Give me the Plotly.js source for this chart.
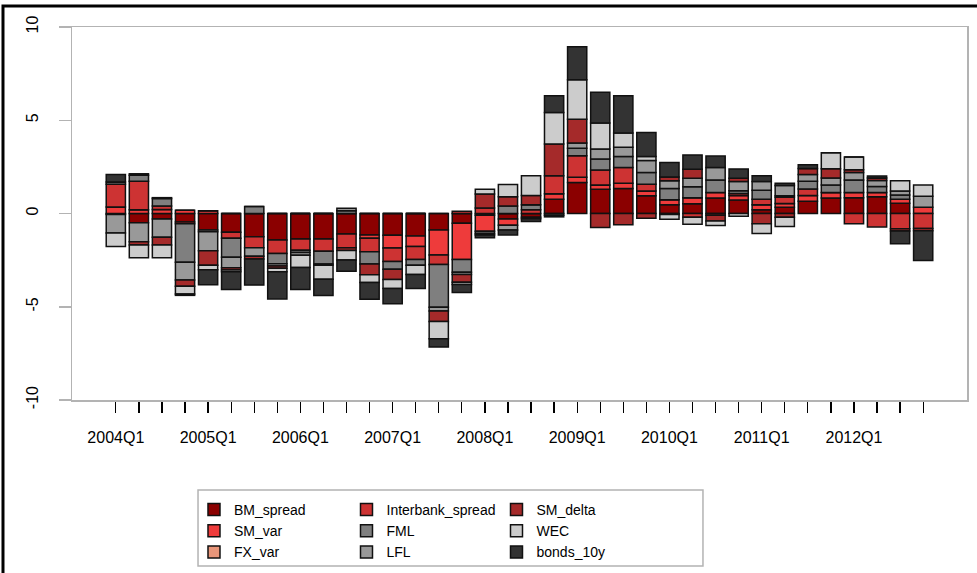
<!DOCTYPE html>
<html>
<head>
<meta charset="utf-8">
<script src="https://cdn.plot.ly/plotly-3.0.1.min.js"></script>
<style>
  html, body { margin: 0; padding: 0; background: #fff; }
  #myDiv { width: 977px; height: 573px; }
</style>
</head>
<body>
<div id="myDiv"></div>
<script>
// quarters on the x axis
var quarters = [
  '2004Q1','2004Q2','2004Q3','2004Q4','2005Q1','2005Q2','2005Q3','2005Q4',
  '2006Q1','2006Q2','2006Q3','2006Q4','2007Q1','2007Q2','2007Q3','2007Q4',
  '2008Q1','2008Q2','2008Q3','2008Q4','2009Q1','2009Q2','2009Q3','2009Q4',
  '2010Q1','2010Q2','2010Q3','2010Q4','2011Q1','2011Q2','2011Q3','2011Q4',
  '2012Q1','2012Q2','2012Q3','2012Q4'
];
var tickLabels = ['2004Q1','2005Q1','2006Q1','2007Q1','2008Q1','2009Q1','2010Q1','2011Q1','2012Q1'];
var yTicks = [-10, -5, 0, 5, 10];
var yTickText = ['-10', '-5', '0', '5', '10'];

// contributions
var BM_spread = [-0.05,-0.49,-0.3,-0.45,-0.88,-1.0,-1.24,-1.42,-1.37,-1.37,-1.1,-1.15,
  -1.17,-1.2,-0.88,-0.52,-0.1,-0.3,-0.2,0.76,1.66,1.3,1.34,0.95,
  0.47,0.52,0.83,0.72,0.2,0.34,0.66,0.83,0.84,0.9,0.55,0];
var SM_var = [0.35,0.2,0.22,0.18,0.15,0,0,0,0,0,0,-0.18,
  -0.68,-0.57,-1.35,-1.95,-0.85,-0.33,-0.08,0.3,0.29,0.23,0.28,0.26,
  0.27,0.33,0.29,0.25,0.27,0.2,0.3,0.29,0.29,0.22,0.22,0.33];
var FX_var = [0,0,0,0,0,0,0,0,0,0,0,0,
  0,0,0,0,0,0,0,0,0,0,0,0,
  0,0,0,0,0,0,0,0,0,0,0,0];
var Interbank_spread = [1.22,1.53,0.18,-0.1,0,-0.33,-0.6,-0.72,-0.6,-0.66,-0.74,-0.72,
  -0.72,-0.7,-0.5,0.12,0.3,0,0.2,0.96,1.15,0.8,0.85,0.36,
  -0.06,-0.2,-0.1,0.1,0.3,0.33,0.35,0,-0.55,-0.72,-0.82,-0.8];
var FML = [0.12,0.32,0.4,-2.07,-0.1,-1.02,0.38,-0.55,-0.12,-0.68,0.15,-0.66,
  -0.42,-0.3,-2.3,-0.68,-0.12,0.4,0.27,-0.1,0.4,0.59,0.58,0.63,
  0.6,0.58,0.68,0.15,0.47,0.08,0.42,0.41,0.67,0.33,0.22,0];
var LFL = [-1.0,-1.02,-0.97,-0.95,-1.02,-0.56,-0.45,-0.12,-0.15,-0.06,0.13,0,
  0,0,-0.2,-0.12,-0.08,-0.25,0,-0.08,0.28,0.54,0.5,0.64,
  0.42,0.46,0.67,0.5,0.48,0.55,0.36,0.37,0.4,0.32,0.22,0.6];
var SM_delta = [0,-0.18,-0.42,-0.33,-0.77,-0.12,-0.15,-0.12,0,0,-0.15,-0.57,
  -0.55,0,-0.56,-0.42,0.75,0.5,0.5,1.71,1.27,-0.75,-0.6,-0.25,
  0.2,0.48,-0.3,0.17,-0.55,-0.2,0.32,0.5,0.14,0.14,-0.12,-0.12];
var WEC = [-0.72,-0.68,-0.68,-0.42,-0.25,-0.1,0,-0.2,-0.65,-0.75,-0.5,-0.42,
  -0.48,-0.5,-0.92,-0.12,0.25,0.65,1.05,1.69,2.12,1.39,0.77,0.22,
  -0.25,-0.38,-0.25,-0.15,-0.52,-0.5,0,0.86,0.69,0,0.55,0.6];
var bonds_10y = [0.4,0.08,0.05,-0.07,-0.8,-0.95,-1.4,-1.45,-1.18,-0.88,-0.6,-0.9,
  -0.82,-0.75,-0.45,-0.42,-0.15,-0.27,-0.15,0.9,1.77,1.65,2.0,1.28,
  0.78,0.77,0.61,0.5,0.3,0.12,0.2,0,0,0.1,-0.68,-1.6];

var series = [
  {name: 'BM_spread',        y: BM_spread,        color: '#8B0000', legend: 'legend'},
  {name: 'SM_var',           y: SM_var,           color: '#EE3B3B', legend: 'legend'},
  {name: 'FX_var',           y: FX_var,           color: '#E9967A', legend: 'legend'},
  {name: 'Interbank_spread', y: Interbank_spread, color: '#CD3333', legend: 'legend2'},
  {name: 'FML',              y: FML,              color: '#7F7F7F', legend: 'legend2'},
  {name: 'LFL',              y: LFL,              color: '#999999', legend: 'legend2'},
  {name: 'SM_delta',         y: SM_delta,         color: '#A52A2A', legend: 'legend3'},
  {name: 'WEC',              y: WEC,              color: '#CCCCCC', legend: 'legend3'},
  {name: 'bonds_10y',        y: bonds_10y,        color: '#333333', legend: 'legend3'}
];

var data = series.map(function (s) {
  return {
    type: 'bar',
    name: s.name,
    x: quarters,
    y: s.y,
    legend: s.legend,
    marker: {color: s.color, line: {color: '#111111', width: 1.5}}
  };
});

var font = 'Liberation Sans, Arial, Helvetica, sans-serif';
function legendAt(x) {
  return {
    x: x, y: -0.252, xanchor: 'left', yanchor: 'top',
    orientation: 'v', traceorder: 'normal',
    bgcolor: 'rgba(0,0,0,0)', borderwidth: 0,
    font: {family: font, size: 14, color: '#000'}
  };
}

var layout = {
  width: 977,
  height: 573,
  margin: {l: 72, r: 10, t: 27, b: 173, autoexpand: false},
  paper_bgcolor: '#fff',
  plot_bgcolor: '#fff',
  barmode: 'relative',
  bargap: 0.167,
  showlegend: true,
  xaxis: {
    type: 'category',
    range: [-1.9, 36.9],
    tickmode: 'array',
    tickvals: quarters,
    ticktext: quarters.map(function (q) { return tickLabels.indexOf(q) >= 0 ? q : ''; }),
    ticks: 'outside', ticklen: 11, tickwidth: 1.3, tickcolor: '#000',
    ticklabelstandoff: 11,
    tickfont: {family: font, size: 16, color: '#000'},
    tickangle: 0,
    showgrid: false, zeroline: false,
    showline: true, linecolor: '#b3b3b3', linewidth: 1.5, mirror: true
  },
  yaxis: {
    range: [-10, 10],
    tickmode: 'array',
    tickvals: yTicks,
    ticktext: yTickText,
    tickangle: -90,
    ticks: 'outside', ticklen: 12, tickwidth: 1.5, tickcolor: '#b3b3b3',
    ticklabelstandoff: 14,
    tickfont: {family: font, size: 16, color: '#000'},
    showgrid: false, zeroline: false,
    showline: true, linecolor: '#b3b3b3', linewidth: 1.5, mirror: true
  },
  legend: legendAt(0.1363),
  legend2: legendAt(0.3067),
  legend3: legendAt(0.4743),
  shapes: [
    // legend frame
    {type: 'rect', xref: 'paper', yref: 'paper', x0: 0.1408, x1: 0.7050, y0: -0.4450, y1: -0.2413,
     line: {color: '#b3b3b3', width: 1.5}},
    // outer figure frame
    {type: 'rect', xref: 'paper', yref: 'paper', x0: -0.0771, x1: 1.03, y0: -0.48, y1: 1.0563,
     line: {color: '#000', width: 3}}
  ]
};

Plotly.newPlot('myDiv', data, layout, {displayModeBar: false, staticPlot: true});
</script>
</body>
</html>
